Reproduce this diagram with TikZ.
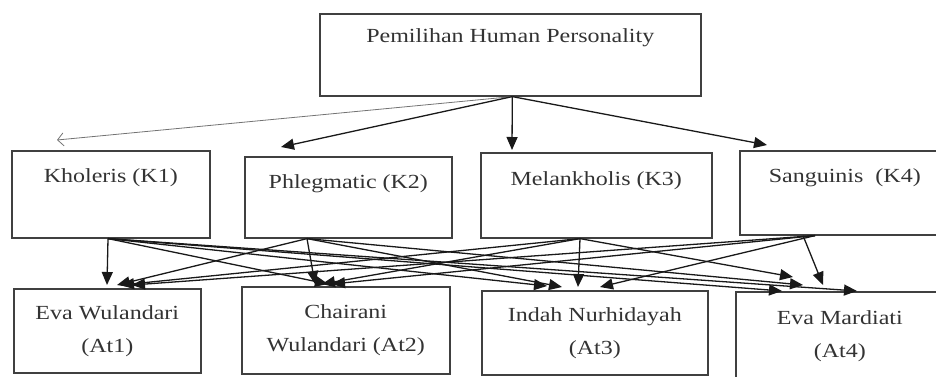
\documentclass[tikz,border=0pt]{standalone}
\usepackage{fontspec}
\setmainfont{Liberation Serif}[FakeStretch=1.2]
\usepackage{tikz}
\usetikzlibrary{arrows.meta}

\tikzset{
  box/.style={draw=black!75, line width=1.6pt, inner sep=0pt, anchor=north west,
    align=center, text=black!80},
  arr/.style={draw=black!90, line width=1.3pt, -{Triangle[length=13pt,width=11pt]}},
  thinarr/.style={draw=black!55, line width=0.8pt, -{Straight Barb[length=6pt,width=13pt]}}
}

\begin{document}
\begin{tikzpicture}[x=1pt, y=-1pt, font=\fontsize{20}{33}\selectfont]
  \useasboundingbox (0,0) rectangle (936,376);
  \clip (0,0) rectangle (936,376);

  % Goal on top
  \node[box, minimum width=381pt, text height=29pt, text depth=53pt] (top) at (319,13) {Pemilihan Human Personality};

  % Criteria K1 to K4
  \node[box, minimum width=198pt, text height=32pt, text depth=55pt] (k1) at (11,150) {Kholeris (K1)};
  \node[box, minimum width=207pt, text height=32pt, text depth=49pt] (k2) at (244,156) {Phlegmatic (K2)};
  \node[box, minimum width=231pt, text height=33pt, text depth=52pt] (k3) at (480,152) {Melankholis (K3)};
  \node[box, minimum width=210pt, text height=32pt, text depth=52pt] (k4) at (739,150) {Sanguinis~~(K4)};

  % Alternatives At1 to At4
  \node[box, minimum width=187pt, minimum height=84pt] (at1) at (13,288) {Eva Wulandari\\(At1)};
  \node[box, minimum width=208pt, minimum height=87pt] (at2) at (241,286) {Chairani\\Wulandari (At2)};
  \node[box, minimum width=226pt, minimum height=84pt] (at3) at (481,290) {Indah Nurhidayah\\(At3)};
  \node[box, minimum width=208pt, minimum height=88pt] (at4) at (735,291) {Eva Mardiati\\(At4)};

  % Arrow tips above the criteria
  \coordinate (tk1) at (57,140);
  \coordinate (tk2) at (281,147);
  \coordinate (tk3) at (512,150);
  \coordinate (tk4) at (767,145);

  % Goal to criteria
  \draw[thinarr] ([xshift=2pt]top.south) -- (tk1);
  \foreach \t in {tk2,tk3,tk4}
    \draw[arr] ([xshift=2pt]top.south) -- (\t);

  % Criteria to alternatives
  \foreach \s/\dx/\d/\tx/\ty in {
      k1/97/at1/94/3, k2/63/at1/104/3, k3/100/at1/108/3, k4/76/at1/119/3,
      k1/97/at2/87/2, k2/63/at2/74/2, k3/100/at2/81/2, k4/76/at2/91/2,
      k1/97/at3/66/4, k2/63/at3/81/3, k3/100/at3/97/3, k4/76/at3/119/3,
      k1/97/at4/47/0, k2/63/at4/68/6, k3/100/at4/58/14, k4/64/at4/88/6,
      k1/97/at4/122/0}
    \draw[arr] ([xshift=\dx pt]\s.south west) -- ([xshift=\tx pt, yshift=\ty pt]\d.north west);
\end{tikzpicture}
\end{document}
